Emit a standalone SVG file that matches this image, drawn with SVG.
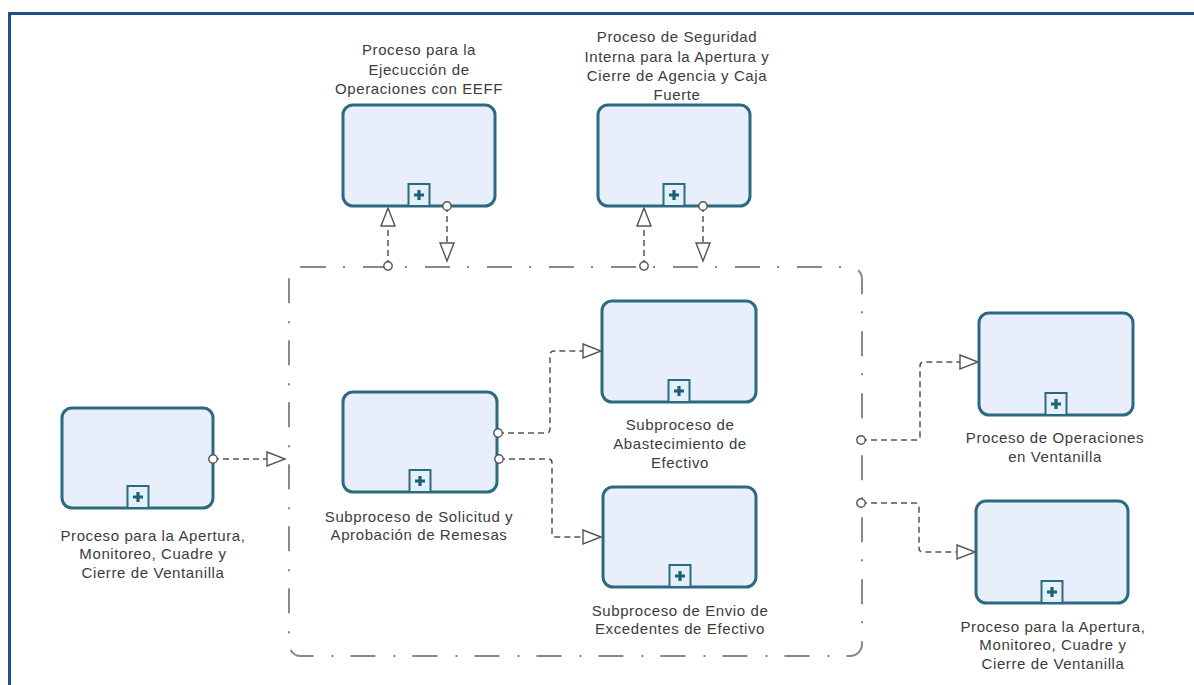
<svg xmlns="http://www.w3.org/2000/svg" width="1194" height="685" viewBox="0 0 1194 685">
<style>
.box{fill:#e9eefb;stroke:#2b6a80;stroke-width:3}
.pm{fill:#e3f0fa;stroke:#2b6a80;stroke-width:2}
.pl{stroke:#1f5f78;stroke-width:3.2;stroke-linecap:butt}
.lbl{font-family:"Liberation Sans",Arial,sans-serif;font-size:15px;letter-spacing:0.6px;fill:#3c3c3c;text-anchor:middle}
.con{fill:none;stroke:#555;stroke-width:1.5;stroke-dasharray:6 4}
.grp{fill:none;stroke:#888;stroke-width:2;stroke-dasharray:25 17 2 18}
</style>
<defs>
<marker id="tri" markerUnits="userSpaceOnUse" markerWidth="22" markerHeight="18" refX="19" refY="8" orient="auto">
<path d="M1,1 L19,8 L1,15 z" fill="#fff" stroke="#555" stroke-width="1.4"/>
</marker>
<marker id="dot" markerUnits="userSpaceOnUse" markerWidth="12" markerHeight="12" refX="6" refY="6" orient="auto">
<circle cx="6" cy="6" r="4.2" fill="#fff" stroke="#555" stroke-width="1.4"/>
</marker>
<g id="plus">
<rect class="pm" x="-10.5" y="-22" width="21" height="22"/>
<path class="pl" d="M-5,-11 H5 M0,-16 V-6"/>
</g>
</defs>
<rect width="1194" height="685" fill="#fff"/>
<rect x="9.5" y="13.5" width="1200" height="700" fill="none" stroke="#1f4e8c" stroke-width="3"/>

<g id="grupo">
<rect class="grp" x="289" y="267" width="573" height="389" rx="12"/>
</g>

<g id="n-eeff">
<rect class="box" x="343" y="105" width="152" height="101" rx="10"/>
<use href="#plus" x="419" y="206"/>
<text class="lbl" x="419" y="55">Proceso para la</text>
<text class="lbl" x="419" y="75">Ejecucción de</text>
<text class="lbl" x="419" y="94">Operaciones con EEFF</text>
</g>

<g id="n-seguridad">
<rect class="box" x="598" y="105" width="152" height="101" rx="10"/>
<use href="#plus" x="674" y="206"/>
<text class="lbl" x="677" y="42">Proceso de Seguridad</text>
<text class="lbl" x="677" y="62">Interna para la Apertura y</text>
<text class="lbl" x="677" y="81">Cierre de Agencia y Caja</text>
<text class="lbl" x="677" y="100">Fuerte</text>
</g>

<g id="n-apertura-izq">
<rect class="box" x="62" y="408" width="151" height="100" rx="10"/>
<use href="#plus" x="138" y="508"/>
<text class="lbl" x="153" y="541">Proceso para la Apertura,</text>
<text class="lbl" x="153" y="559">Monitoreo, Cuadre y</text>
<text class="lbl" x="153" y="578">Cierre de Ventanilla</text>
</g>

<g id="n-solicitud">
<rect class="box" x="343" y="392" width="154" height="100" rx="10"/>
<use href="#plus" x="420" y="492"/>
<text class="lbl" x="419" y="522">Subproceso de Solicitud y</text>
<text class="lbl" x="419" y="540">Aprobación de Remesas</text>
</g>

<g id="n-abastecimiento">
<rect class="box" x="602" y="301" width="154" height="101" rx="10"/>
<use href="#plus" x="679" y="402"/>
<text class="lbl" x="680" y="430">Subproceso de</text>
<text class="lbl" x="680" y="449">Abastecimiento de</text>
<text class="lbl" x="680" y="468">Efectivo</text>
</g>

<g id="n-envio">
<rect class="box" x="603" y="487" width="153" height="100" rx="10"/>
<use href="#plus" x="680" y="587"/>
<text class="lbl" x="680" y="616">Subproceso de Envio de</text>
<text class="lbl" x="680" y="634">Excedentes de Efectivo</text>
</g>

<g id="n-operaciones">
<rect class="box" x="979" y="313" width="154" height="102" rx="10"/>
<use href="#plus" x="1056" y="415"/>
<text class="lbl" x="1055" y="443">Proceso de Operaciones</text>
<text class="lbl" x="1055" y="462">en Ventanilla</text>
</g>

<g id="n-apertura-der">
<rect class="box" x="976" y="501" width="152" height="102" rx="10"/>
<use href="#plus" x="1052" y="603"/>
<text class="lbl" x="1053" y="632">Proceso para la Apertura,</text>
<text class="lbl" x="1053" y="650">Monitoreo, Cuadre y</text>
<text class="lbl" x="1053" y="669">Cierre de Ventanilla</text>
</g>

<g id="connectors">
<path class="con" d="M388,266 V208" marker-start="url(#dot)" marker-end="url(#tri)"/>
<path class="con" d="M447,206 V261" marker-start="url(#dot)" marker-end="url(#tri)"/>
<path class="con" d="M644,266 V208" marker-start="url(#dot)" marker-end="url(#tri)"/>
<path class="con" d="M703,206 V261" marker-start="url(#dot)" marker-end="url(#tri)"/>
<path class="con" d="M213,459 H285" marker-start="url(#dot)" marker-end="url(#tri)"/>
<path class="con" d="M498,433 H546 Q550,433 550,429 V355 Q550,351 554,351 H601" marker-start="url(#dot)" marker-end="url(#tri)"/>
<path class="con" d="M499,459 H548 Q552,459 552,463 V533 Q552,537 556,537 H601" marker-start="url(#dot)" marker-end="url(#tri)"/>
<path class="con" d="M861,440 H916 Q920,440 920,436 V366 Q920,362 924,362 H978" marker-start="url(#dot)" marker-end="url(#tri)"/>
<path class="con" d="M861,503 H915 Q919,503 919,507 V548 Q919,552 923,552 H975" marker-start="url(#dot)" marker-end="url(#tri)"/>
</g>
</svg>
